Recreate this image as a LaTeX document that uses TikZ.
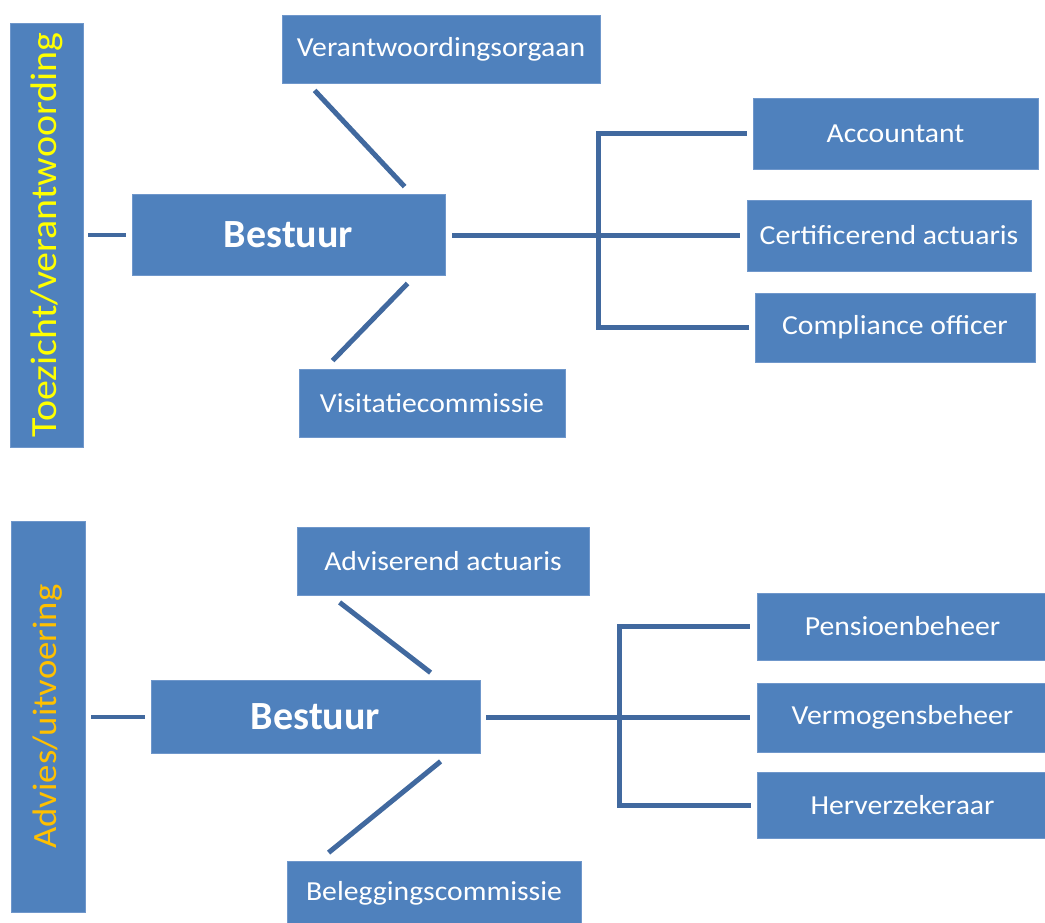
\documentclass[tikz,border=0pt]{standalone}
\usepackage{fontspec}
\setmainfont{Carlito}
\newfontfamily\widefont[FakeStretch=1.08]{Carlito}
\usetikzlibrary{calc}
\definecolor{boxblue}{HTML}{4F81BD}
\definecolor{boxedge}{HTML}{6F97CB}
\definecolor{linec}{HTML}{41699F}
\definecolor{ylw}{HTML}{FFFF00}
\definecolor{org}{HTML}{FFC000}
\begin{document}
\begin{tikzpicture}[x=1pt,y=-1pt,
  box/.style={fill=boxblue,draw=boxedge,line width=0.8pt,inner sep=0pt,text=white,font=\widefont\fontsize{27.5}{32}\selectfont},
  bar/.style={box,rotate=90},
  big/.style={box,font=\bfseries\fontsize{40}{48}\selectfont},
  conn/.style={draw=linec,line width=5pt},
  side/.style={draw=linec,line width=4pt},
]
\useasboundingbox (0,0) rectangle (1045,922);

% ---------- top section ----------
\node[bar,text=ylw,font=\widefont\fontsize{37}{44}\selectfont,minimum width=424,minimum height=73] (bar1) at (46.5,235) {Toezicht/verantwoording};
\node[big,minimum width=313,minimum height=81] (best1) at (288.5,234.5) {Bestuur};
\node[box,minimum width=318,minimum height=68] (ver) at (441,49) {Verantwoordingsorgaan};
\node[box,minimum width=266,minimum height=68] (visit) at (432,403) {Visitatiecommissie};
\node[box,minimum width=285,minimum height=71] (acc) at (895.5,133.5) {Accountant};
\node[box,minimum width=284,minimum height=71] (cert) at (889,235.5) {Certificerend actuaris};
\node[box,minimum width=280,minimum height=69] (comp) at (895,327.5) {Compliance officer};

\draw[side,shorten <=5pt,shorten >=6pt] (bar1.south) -- (bar1.south -| best1.west);
\draw[conn] ([xshift=33pt,yshift=-7pt]ver.south west) -- ([xshift=273pt,yshift=7pt]best1.north west);
\draw[conn] ([xshift=276pt,yshift=-8pt]best1.south west) -- ([xshift=34pt,yshift=8pt]visit.north west);
\coordinate (j1) at (598,235);
\draw[conn,shorten <=7pt] (best1.east |- j1) -- (j1);
\draw[conn,shorten <=6pt,shorten >=6pt] (acc.west) -- (j1 |- acc.west) -- (j1 |- comp.west) -- (comp.west);
\draw[conn,shorten >=7pt] (j1) -- (j1 -| cert.west);

% ---------- bottom section ----------
\node[bar,text=org,font=\widefont\fontsize{34}{40}\selectfont,minimum width=391,minimum height=74] (bar2) at (48,716.5) {Advies/uitvoering};
\node[big,minimum width=329,minimum height=73] (best2) at (315.5,716.5) {Bestuur};
\node[box,minimum width=292,minimum height=68] (adv) at (443,561) {Adviserend actuaris};
\node[box,minimum width=294,minimum height=64] (bel) at (434,893) {Beleggingscommissie};
\node[box,minimum width=291,minimum height=67] (pen) at (902.5,626.5) {Pensioenbeheer};
\node[box,minimum width=291,minimum height=69] (verm) at (902.5,717.5) {Vermogensbeheer};
\node[box,minimum width=291,minimum height=66] (herv) at (902.5,805) {Herverzekeraar};

\draw[side,shorten <=6pt,shorten >=6pt] (bar2.south) -- (bar2.south -| best2.west);
\draw[conn] ([xshift=43pt,yshift=-7pt]adv.south west) -- ([xshift=280pt,yshift=7pt]best2.north west);
\draw[conn] ([xshift=290pt,yshift=-8pt]best2.south west) -- ([xshift=42pt,yshift=8pt]bel.north west);
\coordinate (j2) at (619,717);
\draw[conn,shorten <=6pt] (best2.east |- j2) -- (j2);
\draw[conn,shorten <=7pt,shorten >=6pt] (pen.west) -- (j2 |- pen.west) -- (j2 |- herv.west) -- (herv.west);
\draw[conn,shorten >=7pt] (j2) -- (j2 -| verm.west);
\end{tikzpicture}
\end{document}
